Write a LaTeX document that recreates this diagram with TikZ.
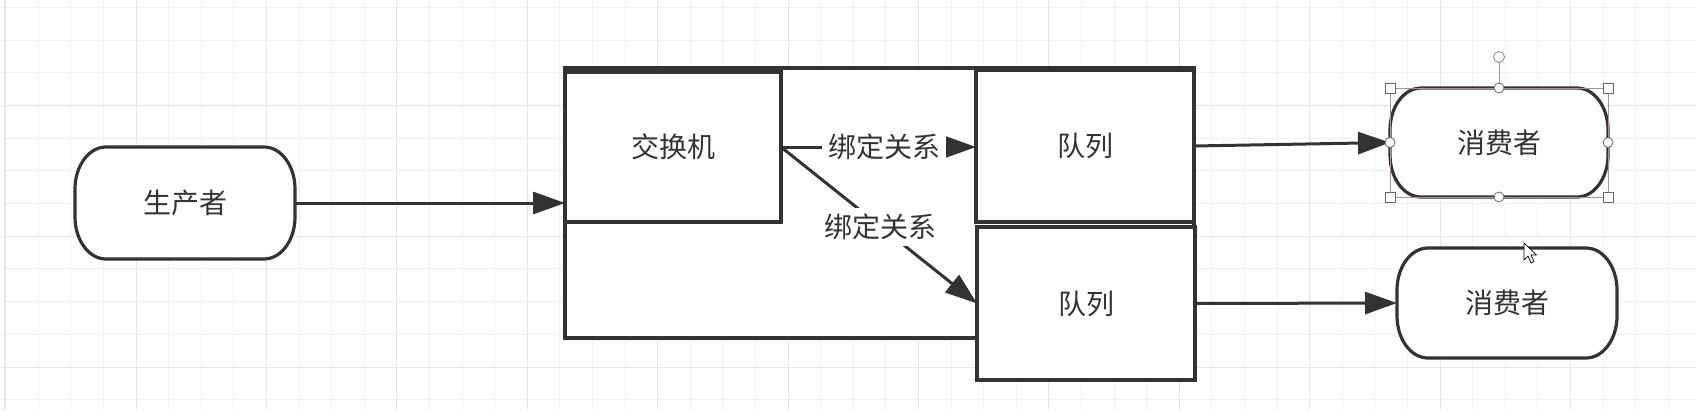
\documentclass[tikz,border=0pt]{standalone}
\usepackage{fontspec}
\newfontfamily\cjk{Noto Sans CJK SC}
\usetikzlibrary{arrows.meta}
\definecolor{ink}{HTML}{333333}
\definecolor{gridminor}{HTML}{F1F1F1}
\definecolor{gridmajor}{HTML}{E6E6E6}
\definecolor{selc}{HTML}{A89098}
\definecolor{handle}{HTML}{666666}
\newcommand{\termpath}[1]{%
  \draw[ink, line width=3.2pt, line join=round]
    ([xshift=31pt]#1.north west) -- ([xshift=-31pt]#1.north east)
    arc[start angle=90, end angle=0, x radius=31pt, y radius=42pt]
    -- ([yshift=42pt]#1.south east)
    arc[start angle=0, end angle=-90, x radius=31pt, y radius=42pt]
    -- ([xshift=31pt]#1.south west)
    arc[start angle=270, end angle=180, x radius=31pt, y radius=42pt]
    -- ([yshift=-42pt]#1.north west)
    arc[start angle=180, end angle=90, x radius=31pt, y radius=42pt] -- cycle;}
\begin{document}
\begin{tikzpicture}[x=1pt,y=-1pt,
  box/.style={draw=ink, line width=3.2pt, fill=white, rectangle, inner sep=0pt, outer sep=0pt,
    font=\cjk\fontsize{28}{30}\selectfont, text=ink},
  term/.style={box, draw=none, rounded corners=30pt},
  conn/.style={draw=ink, line width=3pt, -{Triangle[length=32pt,width=22pt]}},
  lbl/.style={fill=white, inner xsep=1pt, inner ysep=3pt, font=\cjk\fontsize{28}{30}\selectfont, text=ink},
  hsq/.style={draw=handle, fill=white, line width=0.8pt},
]
\useasboundingbox (0,0) rectangle (1696,410);
\fill[white] (0,0) rectangle (1696,410);
% grid
\foreach \i in {0,...,51} {
  \draw[gridminor, line width=1pt] ({38.2+32.6*\i},0) -- ({38.2+32.6*\i},410);
}
\foreach \j in {0,...,12} {
  \draw[gridminor, line width=1pt] (0,{7.3+32.7*\j}) -- (1696,{7.3+32.7*\j});
}
\foreach \i in {0,...,12} {
  \draw[gridmajor, line width=1pt] ({136+130.4*\i},0) -- ({136+130.4*\i},410);
}
\foreach \j in {0,...,3} {
  \draw[gridmajor, line width=1pt] (0,{105.4+130.8*\j}) -- (1696,{105.4+130.8*\j});
}
\draw[gridmajor, line width=2pt] (5,0) -- (5,410);

% shapes
\node[term, minimum width=220pt, minimum height=112pt] (prod) at (185,203) {生产者};
\termpath{prod}
\node[box, minimum width=629pt, minimum height=270pt] (cont) at (879.5,203) {};
\node[box, minimum width=216pt, minimum height=150pt] (exch) at (673,147) {交换机};
\node[box, minimum width=218pt, minimum height=152pt] (q1) at (1085,146) {队列};
\node[box, minimum width=218pt, minimum height=153pt] (q2) at (1086,303.5) {队列};
\node[term, minimum width=218pt, minimum height=109pt] (c1) at (1499,142.5) {消费者};
\termpath{c1}
\node[term, minimum width=220pt, minimum height=110pt] (c2) at (1507,303) {消费者};
\termpath{c2}

% connectors
\draw[conn] (prod.east) -- (prod.east -| cont.west);
\draw[conn] (exch.east) -- (exch.east -| q1.west);
\draw[conn] (exch.east) -- (q2.west);
\draw[conn] (q1.east) -- (c1.west);
\draw[conn] (q2.east) -- (c2.west);
\node[lbl, inner xsep=6pt] (l1) at (884,147) {绑定关系};
\node[lbl, inner ysep=6pt] (l2) at (880,227) {绑定关系};

% selection handles on the first consumer
\draw[selc, line width=0.8pt] (c1.north west) rectangle (c1.south east);
\draw[selc, line width=1pt] (c1.north) -- ++(0,-25);
\draw[selc, fill=white, line width=1pt] (1499,57) circle (5.5);
\foreach \a in {north west, north east, south west, south east} {
  \draw[hsq] ([shift={(-5,-5)}]c1.\a) rectangle ([shift={(5,5)}]c1.\a);
}
\foreach \a in {north, south, east, west} {
  \draw[hsq] (c1.\a) circle (5);
}
% mouse pointer
\draw[black, fill=white, line width=0.7pt, line join=round]
  (1524,243) -- ++(0,17) -- ++(4,-4) -- ++(3,7) -- ++(3,-1.5) -- ++(-3,-6.5) -- ++(5.5,0) -- cycle;
\end{tikzpicture}
\end{document}
